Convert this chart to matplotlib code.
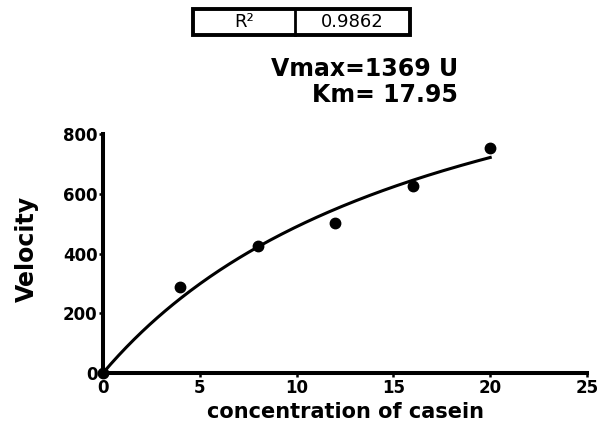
import numpy as np
import matplotlib
matplotlib.use("Agg")
import matplotlib.pyplot as plt
from matplotlib.patches import Rectangle
from matplotlib.lines import Line2D

# casein concentration vs. measured velocity
conc = [0, 4, 8, 12, 16, 20]
velocity = [0, 288, 425, 502, 626, 753]

# Michaelis-Menten fit
vmax = 1369
km = 17.95
r_squared = "0.9862"

xticks = [0, 5, 10, 15, 20, 25]
yticks = [0, 200, 400, 600, 800]

plt.rcParams["font.family"] = ["DejaVu Sans"]

fig = plt.figure(figsize=(6.08, 4.23), dpi=100)
ax = fig.add_axes([0.1694, 0.1182, 0.7961, 0.5650])

s = np.linspace(0, max(conc), 200)
ax.plot(s, vmax * s / (km + s), color="black", lw=2.2, clip_on=False, zorder=3)
ax.plot(conc, velocity, "o", color="black", ms=7.5, clip_on=False, zorder=4)

ax.set_xlim(0, 25)
ax.set_ylim(0, 800)
ax.set_xticks(xticks)
ax.set_yticks(yticks)
for sp in ["top", "right"]:
    ax.spines[sp].set_visible(False)
for sp in ["left", "bottom"]:
    ax.spines[sp].set_linewidth(2.9)
ax.tick_params(direction="out", length=3, width=1.8, pad=1, labelsize=12)
for lbl in ax.get_xticklabels() + ax.get_yticklabels():
    lbl.set_fontweight("bold")

fig.text(0.044, 0.411, "Velocity", rotation=90, ha="center", va="center",
         fontsize=17, fontweight="bold")
fig.text(0.569, 0.012, "concentration of casein", ha="center", va="baseline",
         fontsize=15, fontweight="bold")

# fit parameters
fig.text(0.753, 0.82, f"Vmax={vmax} U", ha="right", va="baseline",
         fontsize=17, fontweight="bold")
fig.text(0.753, 0.758, f"Km= {km}", ha="right", va="baseline",
         fontsize=17, fontweight="bold")

# R squared box
x0, x1, xd = 193 / 608, 410 / 608, 295 / 608
y0, y1 = 1 - 35 / 423, 1 - 9 / 423
fig.patches.append(Rectangle((x0, y0), x1 - x0, y1 - y0, transform=fig.transFigure,
                             fill=False, edgecolor="black", lw=2.8))
fig.lines.append(Line2D([xd, xd], [y0, y1], transform=fig.transFigure,
                        color="black", lw=2.0))
fig.text((x0 + xd) / 2, (y0 + y1) / 2, "R²", ha="center", va="center", fontsize=13)
fig.text((xd + x1) / 2, (y0 + y1) / 2, r_squared, ha="center", va="center", fontsize=13)

fig.savefig("out.png", dpi=100)
